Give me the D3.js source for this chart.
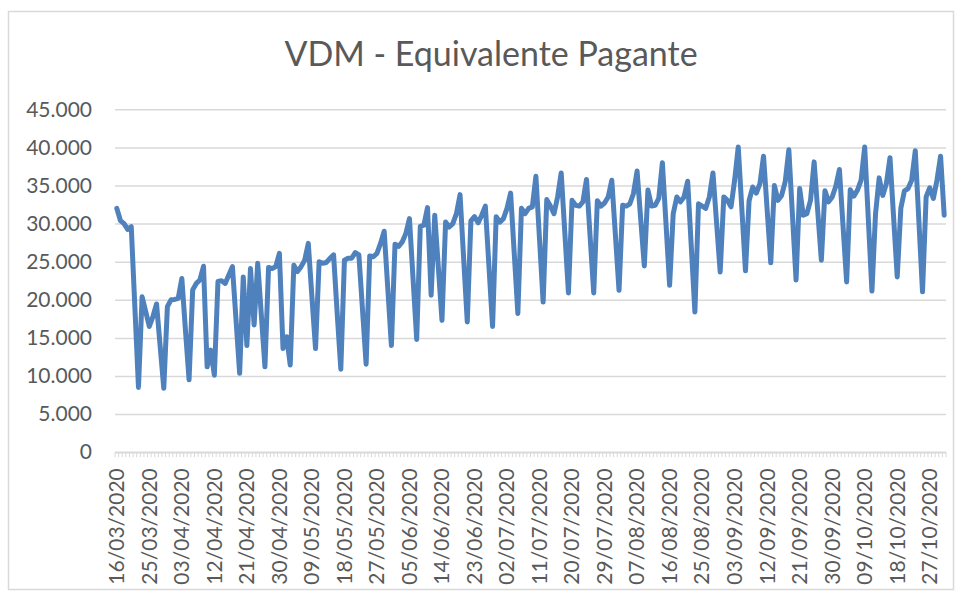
<!DOCTYPE html>
<html>
<head>
<meta charset="utf-8">
<script src="https://cdn.jsdelivr.net/npm/d3@7"></script>
<style>
  body { margin: 0; background: #fff; }
  text { font-family: Lato, "Open Sans", sans-serif; fill: #595959; }
</style>
</head>
<body>
<div id="chart"></div>
<script>
// Chart data: daily "equivalente pagante", 16/03/2020 to 31/10/2020
var startDay = new Date(2020, 2, 16);
var endDay = new Date(2020, 9, 31);

var values = [
  32000, 30400, 30000, 29250, 29600, 19000, 8500,
  20400, 18450, 16500, 17800, 19450, 13900, 8400,
  19100, 20000, 20050, 20200, 22800, 16000, 9500,
  21300, 22150, 22600, 24400, 11200, 13400, 10100,
  22400, 22500, 22150, 23250, 24350, 17350, 10350,
  23000, 14000, 24100, 16700, 24800, 18000, 11200,
  24250, 24100, 24350, 26100, 13600, 15150, 11450,
  24550, 23700, 24350, 25200, 27400, 20400, 13600,
  25000, 24800, 24900, 25450, 25900, 18200, 10900,
  25200, 25450, 25450, 26200, 25900, 18700, 11550,
  25750, 25650, 26100, 27400, 29000, 21500, 14000,
  27300, 27000, 27600, 28700, 30650, 22700, 14800,
  29650, 29800, 32100, 20600, 31100, 24200, 17300,
  30200, 29550, 30000, 31300, 33800, 25400, 17100,
  30350, 30900, 30100, 31100, 32300, 24400, 16500,
  30900, 30200, 30650, 32000, 34000, 26100, 18200,
  32000, 31300, 32000, 32200, 36200, 27900, 19700,
  33150, 32300, 31300, 33500, 36650, 28800, 20900,
  33050, 32400, 32300, 32850, 35800, 28300, 20900,
  33000, 32300, 32700, 33500, 35700, 28500, 21250,
  32400, 32300, 32600, 33950, 36900, 30600, 24450,
  34400, 32300, 32400, 33300, 38000, 30000, 21900,
  31300, 33500, 32850, 33500, 35550, 27000, 18400,
  32600, 32300, 32000, 33500, 36650, 30100, 23650,
  33500, 33050, 32200, 35700, 40050, 31900, 23800,
  33000, 34800, 34000, 35250, 38850, 31800, 24850,
  35000, 33050, 33700, 35500, 39700, 31100, 22600,
  34600, 31100, 31300, 33050, 38100, 31600, 25200,
  34300, 32850, 33500, 34900, 37100, 29700, 22350,
  34450, 33600, 34400, 35700, 40050, 30600, 21150,
  31300, 36000, 33700, 35250, 38650, 30800, 23000,
  32000, 34300, 34600, 35700, 39550, 30300, 21050,
  33500, 34700, 33300, 35700, 38850, 31100
];

var yTicks = [0, 5000, 10000, 15000, 20000, 25000, 30000, 35000, 40000, 45000];
var labelEvery = 9;
var title = "VDM - Equivalente Pagante";

// Set width and height for SVG object
var svgWidth = 961;
var svgHeight = 595;

var margin = {
  top: 109.3,
  right: 15,
  bottom: 142.8,
  left: 115
};

var width = svgWidth - margin.left - margin.right;
var height = svgHeight - margin.top - margin.bottom;

var days = d3.timeDay.range(startDay, d3.timeDay.offset(endDay, 1));
var fmtDay = d3.timeFormat("%d/%m/%Y");
var data = days.map(function(d, i) {
  return { day: fmtDay(d), value: values[i] };
});

var ptBR = d3.formatLocale({ decimal: ",", thousands: ".", grouping: [3], currency: ["R$", ""] });
var fmtNum = ptBR.format(",");

var svg = d3.select("#chart")
  .append("svg")
  .attr("width", svgWidth)
  .attr("height", svgHeight);

// outer chart border
svg.append("rect")
  .attr("x", 8.5)
  .attr("y", 11.5)
  .attr("width", 945)
  .attr("height", 578)
  .attr("fill", "none")
  .attr("stroke", "#d9d9d9")
  .attr("stroke-width", 1.5);

svg.append("text")
  .attr("x", 491)
  .attr("y", 66)
  .attr("text-anchor", "middle")
  .attr("font-size", "34px")
  .text(title);

var chartGroup = svg.append("g")
  .attr("transform", `translate(${margin.left}, ${margin.top})`);

// Scales
var xScale = d3.scaleBand()
  .domain(data.map(d => d.day))
  .range([0, width]);

var yScale = d3.scaleLinear()
  .domain([0, 45000])
  .range([height, 0]);

// Gridlines
var grid = chartGroup.append("g")
  .call(d3.axisLeft(yScale).tickValues(yTicks).tickSize(-width).tickFormat(""));
grid.select(".domain").remove();
grid.selectAll("line")
  .attr("stroke", "#d9d9d9")
  .attr("stroke-width", 1.5);

// Y labels
var yAxis = chartGroup.append("g")
  .call(d3.axisLeft(yScale).tickValues(yTicks).tickSize(0).tickPadding(23).tickFormat(fmtNum));
yAxis.select(".domain").remove();
yAxis.selectAll("text")
  .attr("font-size", "21px")
  .style("font-family", "Lato, sans-serif")
  .attr("fill", "#595959");

// X axis line and small ticks between categories
var xAxisG = chartGroup.append("g")
  .attr("transform", `translate(0, ${height})`);

xAxisG.selectAll("line.tk")
  .data(d3.range(data.length + 1))
  .enter()
  .append("line")
  .attr("class", "tk")
  .attr("x1", i => i * xScale.step())
  .attr("x2", i => i * xScale.step())
  .attr("y1", 0)
  .attr("y2", 5)
  .attr("stroke", "#d9d9d9")
  .attr("stroke-width", 1);

xAxisG.append("line")
  .attr("x1", 0)
  .attr("x2", width)
  .attr("stroke", "#d9d9d9")
  .attr("stroke-width", 1.5);

var xLabels = data.filter((d, i) => i % labelEvery === 0);
xAxisG.selectAll("text.xl")
  .data(xLabels)
  .enter()
  .append("text")
  .attr("class", "xl")
  .attr("transform", d => `translate(${xScale(d.day) + xScale.bandwidth() / 2}, 16) rotate(-90)`)
  .attr("dy", "0.35em")
  .attr("text-anchor", "end")
  .attr("font-size", "21px")
  .text(d => d.day);

// Line
var line = d3.line()
  .x(d => xScale(d.day) + xScale.bandwidth() / 2)
  .y(d => yScale(d.value));

chartGroup.append("path")
  .datum(data)
  .attr("d", line)
  .attr("fill", "none")
  .attr("stroke", "#4f81bd")
  .attr("stroke-width", 5)
  .attr("stroke-linejoin", "round")
  .attr("stroke-linecap", "round");
</script>
</body>
</html>
